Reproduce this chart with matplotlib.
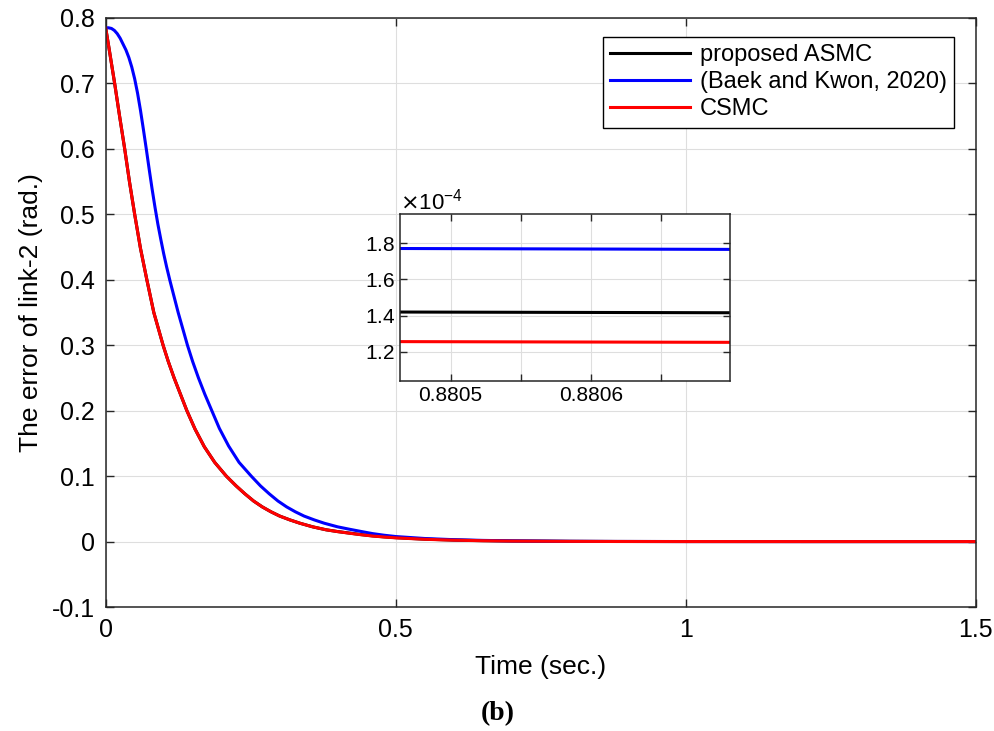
import matplotlib
matplotlib.use("Agg")
import matplotlib.pyplot as plt
from matplotlib.ticker import ScalarFormatter

plt.rcParams['font.family'] = ['Liberation Sans', 'DejaVu Sans']

# link-2 error
t_blue = [0, 0.005, 0.01, 0.015, 0.02, 0.025, 0.03, 0.035, 0.04, 0.045,
          0.05, 0.055, 0.06, 0.065, 0.07, 0.075, 0.08, 0.085, 0.09, 0.095,
          0.10, 0.105, 0.111, 0.125, 0.141, 0.150, 0.160, 0.171, 0.183, 0.196,
          0.212, 0.230, 0.251, 0.267, 0.282, 0.297, 0.312, 0.327, 0.342, 0.36,
          0.377, 0.40, 0.42, 0.44, 0.46, 0.48, 0.5, 0.55, 0.6, 0.65,
          0.7, 0.8, 0.88, 1.0, 1.2, 1.5]
e_blue = [0.785, 0.785, 0.784, 0.781, 0.776, 0.769, 0.760, 0.751, 0.7395, 0.725,
          0.707, 0.685, 0.659, 0.630, 0.600, 0.569, 0.539, 0.511, 0.485, 0.462,
          0.440, 0.420, 0.398, 0.350, 0.30, 0.275, 0.25, 0.225, 0.20, 0.173,
          0.146, 0.121, 0.10, 0.085, 0.073, 0.062, 0.053, 0.0455, 0.039, 0.033,
          0.028, 0.0225, 0.0189, 0.0155, 0.0122, 0.0097, 0.0077, 0.0047, 0.0029, 0.0018,
          0.0011, 0.0004, 0.000177, 0.00006, 0.000008, 0.0000004]

t_red = [0, 0.005, 0.0155, 0.024, 0.0328, 0.041, 0.05, 0.06, 0.071, 0.083,
         0.099, 0.108, 0.118, 0.129, 0.14, 0.154, 0.17, 0.188, 0.208, 0.225,
         0.24, 0.255, 0.27, 0.285, 0.30, 0.318, 0.335, 0.357, 0.38, 0.40,
         0.42, 0.44, 0.46, 0.48, 0.5, 0.55, 0.6, 0.65, 0.7, 0.8,
         0.88, 1.0, 1.2, 1.5]
e_red = [0.785, 0.758, 0.70, 0.65, 0.60, 0.55, 0.50, 0.448, 0.40, 0.35,
         0.30, 0.275, 0.25, 0.225, 0.20, 0.172, 0.145, 0.121, 0.10, 0.085,
         0.073, 0.062, 0.053, 0.0455, 0.039, 0.033, 0.028, 0.0225, 0.018, 0.0152,
         0.0128, 0.0105, 0.0085, 0.0070, 0.0057, 0.0035, 0.0021, 0.0013, 0.0008, 0.0003,
         0.000126, 0.00004, 0.000006, 0.0000003]

t_black = t_red
e_black = [0.785, 0.758, 0.70, 0.65, 0.60, 0.55, 0.50, 0.448, 0.40, 0.35,
           0.30, 0.275, 0.25, 0.225, 0.20, 0.172, 0.145, 0.121, 0.10, 0.085,
           0.073, 0.062, 0.053, 0.0455, 0.039, 0.033, 0.028, 0.0225, 0.018, 0.0153,
           0.013, 0.0107, 0.0087, 0.0072, 0.0060, 0.0037, 0.0023, 0.0014, 0.00088, 0.00034,
           0.000142, 0.000045, 0.000007, 0.0000004]

# zoomed window around t = 0.8805
t_zoom = [0.88046, 0.8807]
z_black = [1.420e-4, 1.416e-4]
z_blue = [1.770e-4, 1.765e-4]
z_red = [1.257e-4, 1.253e-4]

labels = ['proposed ASMC', '(Baek and Kwon, 2020)', 'CSMC']
xticks = [0, 0.5, 1, 1.5]
xticklabels = ['0', '0.5', '1', '1.5']
yticks = [-0.1, 0, 0.1, 0.2, 0.3, 0.4, 0.5, 0.6, 0.7, 0.8]
yticklabels = ['-0.1', '0', '0.1', '0.2', '0.3', '0.4', '0.5', '0.6', '0.7', '0.8']
zoom_xticks = [0.8805, 0.88055, 0.8806, 0.88065]
zoom_xticklabels = ['0.8805', '', '0.8806', '']
zoom_yticks = [1.2e-4, 1.4e-4, 1.6e-4, 1.8e-4]

spine_col = '#262626'
grid_col = '#dedede'

fig = plt.figure(figsize=(9.95, 7.31), dpi=100)
ax = fig.add_axes([0.1062, 0.1696, 0.8744, 0.8058])

ax.plot(t_black, e_black, color='black', lw=2.2, label=labels[0])
ax.plot(t_blue, e_blue, color='#0000ff', lw=2.2, label=labels[1])
ax.plot(t_red, e_red, color='#ff0000', lw=2.2, label=labels[2])

ax.set_xlim(0, 1.5)
ax.set_ylim(-0.1, 0.8)
ax.set_xticks(xticks)
ax.set_xticklabels(xticklabels)
ax.set_yticks(yticks)
ax.set_yticklabels(yticklabels)
ax.tick_params(direction='in', length=6, width=1.0, top=True, right=True,
               labelsize=18, colors=spine_col, labelcolor='black', pad=8)
ax.grid(True, color=grid_col, lw=0.8)
for s in ax.spines.values():
    s.set_color(spine_col)
    s.set_linewidth(1.1)

ax.set_xlabel('Time (sec.)', fontsize=19, labelpad=9)
ax.set_ylabel('The error of link-2 (rad.)', fontsize=19, labelpad=6)

leg = ax.legend(loc='upper right', bbox_to_anchor=(954 / 995, 1 - 37 / 731),
                bbox_transform=fig.transFigure, borderaxespad=0,
                fontsize=17, handlelength=3.4, labelspacing=0.22,
                fancybox=False, framealpha=1, borderpad=0.3, handletextpad=0.4)
leg.get_frame().set_edgecolor('black')
leg.get_frame().set_linewidth(1.0)

# inset
axi = fig.add_axes([400 / 995, 1 - 381 / 731, 330 / 995, 167 / 731])
axi.plot(t_zoom, z_black, color='black', lw=2.2)
axi.plot(t_zoom, z_blue, color='#0000ff', lw=2.2)
axi.plot(t_zoom, z_red, color='#ff0000', lw=2.2)
axi.set_xlim(0.880464, 0.880699)
axi.set_ylim(1.04e-4, 1.96e-4)
axi.set_xticks(zoom_xticks)
axi.set_xticklabels(zoom_xticklabels)
axi.set_yticks(zoom_yticks)
fmt = ScalarFormatter(useMathText=True)
fmt.set_powerlimits((0, 0))
axi.yaxis.set_major_formatter(fmt)
axi.yaxis.get_offset_text().set_fontsize(16)
axi.tick_params(direction='in', length=5, width=1.0, top=True, right=True,
                labelsize=15, colors=spine_col, labelcolor='black')
axi.grid(True, color=grid_col, lw=0.8)
for s in axi.spines.values():
    s.set_color(spine_col)
    s.set_linewidth(1.1)

fig.text(0.5, 1 - 714 / 731, '(b)', ha='center', va='center', fontsize=20,
         fontweight='bold', family=['Liberation Serif', 'DejaVu Serif'])

fig.savefig('out.png', dpi=100)
